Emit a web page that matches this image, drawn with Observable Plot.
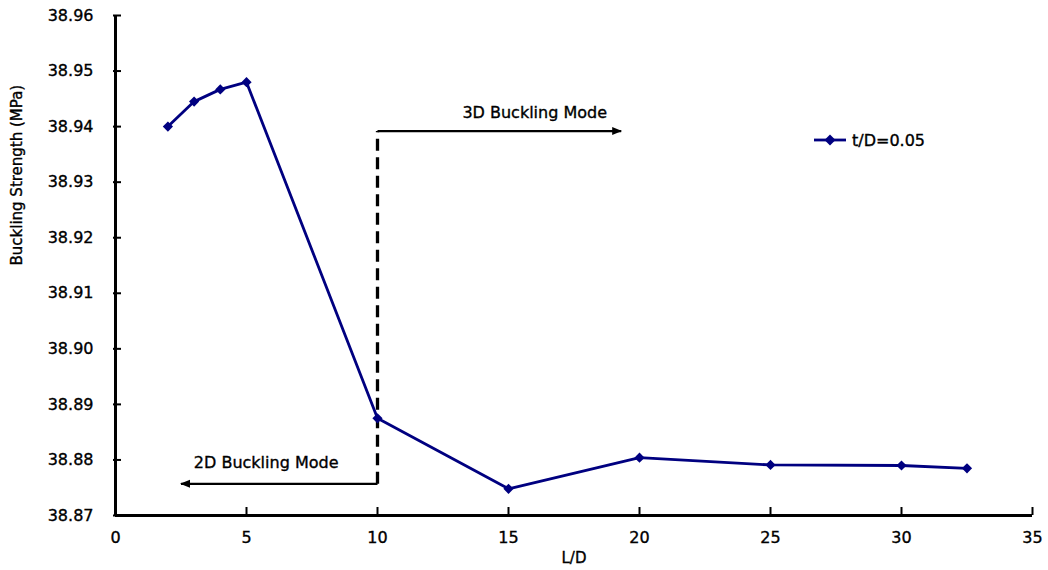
<!DOCTYPE html>
<html><head><meta charset="utf-8">
<script src="https://cdn.jsdelivr.net/npm/d3@7"></script>
<script src="https://cdn.jsdelivr.net/npm/@observablehq/plot@0.6"></script>
<style>
body{margin:0;background:#fff;}
#wrap{position:relative;width:1048px;height:570px;font-family:"DejaVu Sans",sans-serif;}
#wrap svg text{stroke:#000;stroke-width:0.35px;}
#legend{position:absolute;left:813px;top:130px;display:flex;align-items:center;font-size:16px;color:#000;-webkit-text-stroke:0.35px #000;}
#legend svg{margin-right:5px;}
</style></head><body><div id="wrap"><div id="legend"></div></div>
<script>
// ---- data ----
const ldValues = [2, 3, 4, 5, 10, 15, 20, 25, 30, 32.5];
const strengthValues = [38.9400, 38.9445, 38.9467, 38.9480, 38.8875, 38.8748, 38.8804, 38.8791, 38.8790, 38.8785];
const seriesName = "t/D=0.05";
const xTicks = [0, 5, 10, 15, 20, 25, 30, 35];
const yTicks = [38.87, 38.88, 38.89, 38.90, 38.91, 38.92, 38.93, 38.94, 38.95, 38.96];
const xLabel = "L/D";
const yLabel = "Buckling Strength (MPa)";
const modeLabels = ["3D Buckling Mode", "2D Buckling Mode"];
const modeLabelX = [16, 5.75];
const modeLabelY = [38.9425, 38.8795];
const arrowFromX = [10, 10];
const arrowToX = [19.3, 2.5];
const arrowY = [38.9392, 38.8757];
const boundaryX = [10];
const boundaryY1 = [38.8757];
const boundaryY2 = [38.9392];

const navy = "#000080";
const data = ldValues.map((x, i) => ({x, y: strengthValues[i]}));
const arrows = arrowFromX.map((x1, i) => ({x1, x2: arrowToX[i], y: arrowY[i]}));
const labels = modeLabels.map((t, i) => ({t, x: modeLabelX[i], y: modeLabelY[i]}));
const boundary = boundaryX.map((x, i) => ({x, y1: boundaryY1[i], y2: boundaryY2[i]}));

function triangleMarker(color, context) {
  const doc = context.document;
  const m = doc.createElementNS("http://www.w3.org/2000/svg", "marker");
  m.setAttribute("viewBox", "-5 -5 10 10");
  m.setAttribute("markerUnits", "userSpaceOnUse");
  m.setAttribute("markerWidth", "10");
  m.setAttribute("markerHeight", "10");
  m.setAttribute("refX", "4");
  m.setAttribute("refY", "0");
  m.setAttribute("orient", "auto");
  const p = doc.createElementNS("http://www.w3.org/2000/svg", "path");
  p.setAttribute("d", "M-5,-4L5,0L-5,4Z");
  p.setAttribute("fill", color);
  p.setAttribute("stroke", "none");
  m.appendChild(p);
  return m;
}

const chart = Plot.plot({
  width: 1048,
  height: 570,
  marginLeft: 115,
  marginRight: 16,
  marginTop: 15,
  marginBottom: 55,
  style: {fontFamily: "DejaVu Sans, sans-serif", fontSize: "16px", color: "#000", background: "#fff"},
  x: {domain: [xTicks[0], xTicks[xTicks.length - 1]]},
  y: {domain: [yTicks[0], yTicks[yTicks.length - 1]]},
  marks: [
    Plot.axisX({ticks: xTicks, tickSize: 0, tickPadding: 16, label: null, fontSize: 16, stroke: null}),
    Plot.axisX({ticks: xTicks, tickSize: 8, dy: -8, tickFormat: () => "", label: null, strokeWidth: 2}),
    Plot.axisY({ticks: yTicks, tickSize: 0, tickPadding: 22, tickFormat: d3.format(".2f"), label: null, fontSize: 16}),
    Plot.axisY({ticks: yTicks, tickSize: 8, dx: 6, tickFormat: () => "", label: null, strokeWidth: 2}),
    Plot.ruleX([xTicks[0]], {stroke: "#000", strokeWidth: 3}),
    Plot.ruleY([yTicks[0]], {stroke: "#000", strokeWidth: 3}),
    Plot.link(boundary, {x1: "x", x2: "x", y1: "y1", y2: "y2", stroke: "#000", strokeWidth: 3.3, strokeDasharray: "12,6.5"}),
    Plot.link(arrows, {x1: "x1", x2: "x2", y1: "y", y2: "y", stroke: "#000", strokeWidth: 2.2, markerEnd: triangleMarker}),
    Plot.text(labels, {x: "x", y: "y", text: "t", fontSize: 16, fill: "#000"}),
    Plot.line(data, {x: "x", y: "y", stroke: navy, strokeWidth: 2.8}),
    Plot.dot(data, {x: "x", y: "y", symbol: "diamond2", r: 4.6, fill: navy, stroke: null}),
    Plot.text([xLabel], {frameAnchor: "bottom", dy: 47, fontSize: 15, fill: "#000"}),
    Plot.text([yLabel], {frameAnchor: "left", dx: -98, rotate: -90, fontSize: 15, fill: "#000"})
  ]
});
document.getElementById("wrap").appendChild(chart);

const legend = document.getElementById("legend");
legend.innerHTML = `<svg width="34" height="20"><line x1="1" y1="10" x2="33" y2="10" stroke="${navy}" stroke-width="2.8"></line><path d="M17,4.5L22.5,10L17,15.5L11.5,10Z" fill="${navy}"></path></svg><span></span>`;
legend.querySelector("span").textContent = seriesName;
</script>
</body></html>
